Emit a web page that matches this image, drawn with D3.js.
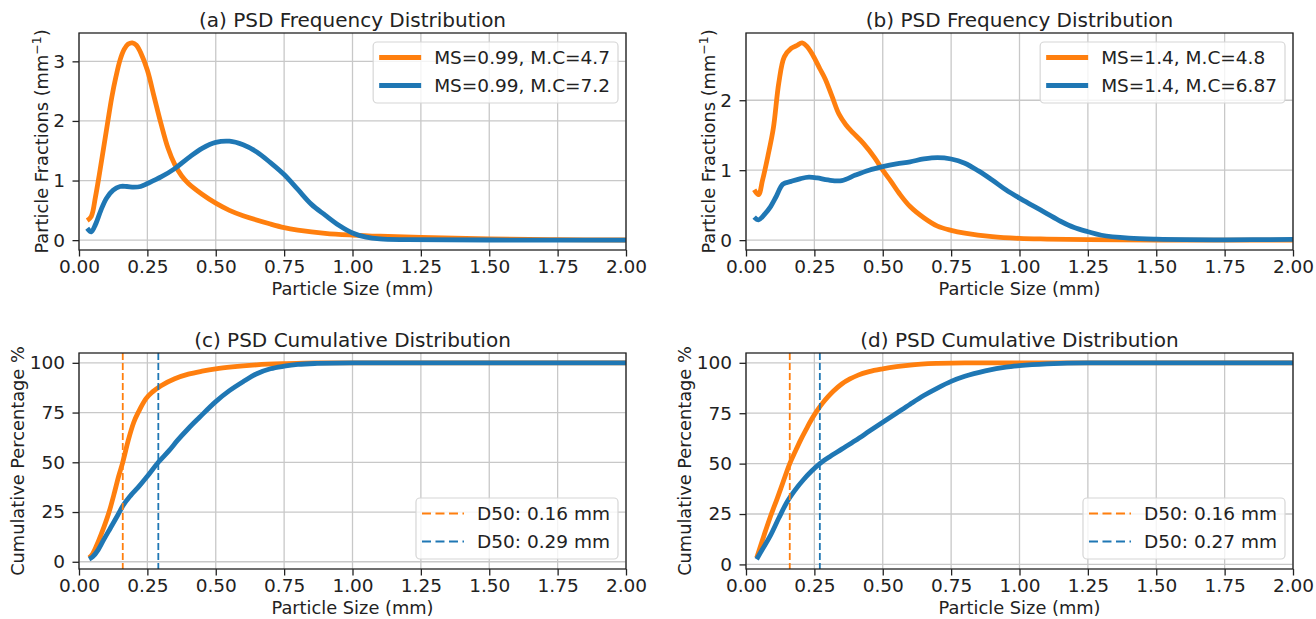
<!DOCTYPE html>
<html>
<head>
<meta charset="utf-8">
<script src="https://cdn.jsdelivr.net/npm/d3@7"></script>
<style>
  body { margin: 0; background: #fff; }
  svg { display: block; font-family: "DejaVu Sans", sans-serif; }
</style>
</head>
<body>
<svg id="chart"></svg>
<script>
// size ticks shared by every panel
const xTicks = [0, 0.25, 0.5, 0.75, 1.0, 1.25, 1.5, 1.75, 2.0];

// (a) frequency, MS=0.99
const aOrange = [[0.03,0.33],[0.045,0.40],[0.06,0.72],[0.075,1.12],[0.09,1.55],[0.105,1.98],[0.12,2.40],[0.135,2.74],[0.15,3.02],[0.165,3.2],[0.18,3.29],[0.195,3.31],[0.21,3.27],[0.225,3.15],[0.25,2.85],[0.275,2.4],[0.3,1.95],[0.325,1.55],[0.35,1.27],[0.375,1.08],[0.4,0.95],[0.45,0.77],[0.5,0.62],[0.55,0.5],[0.6,0.41],[0.7,0.27],[0.75,0.21],[0.8,0.17],[0.9,0.115],[1.0,0.085],[1.1,0.065],[1.25,0.045],[1.5,0.02],[1.75,0.008],[2.0,0.002]];
const aBlue = [[0.03,0.2],[0.045,0.14],[0.06,0.26],[0.08,0.5],[0.1,0.7],[0.125,0.84],[0.15,0.9],[0.175,0.9],[0.2,0.89],[0.225,0.9],[0.25,0.95],[0.3,1.06],[0.35,1.2],[0.4,1.38],[0.45,1.54],[0.5,1.64],[0.55,1.66],[0.6,1.6],[0.65,1.48],[0.7,1.3],[0.75,1.1],[0.8,0.85],[0.85,0.6],[0.9,0.42],[0.95,0.25],[1.0,0.12],[1.05,0.05],[1.1,0.02],[1.2,0.008],[1.5,0.002],[2.0,0]];

// (b) frequency, MS=1.4
const bOrange = [[0.03,0.72],[0.046,0.65],[0.06,0.85],[0.08,1.2],[0.1,1.6],[0.12,2.25],[0.14,2.62],[0.165,2.74],[0.185,2.78],[0.205,2.82],[0.225,2.76],[0.245,2.64],[0.27,2.45],[0.29,2.3],[0.315,2.05],[0.34,1.8],[0.365,1.65],[0.39,1.54],[0.43,1.38],[0.47,1.18],[0.5,1.0],[0.53,0.84],[0.56,0.67],[0.6,0.48],[0.65,0.32],[0.7,0.2],[0.75,0.14],[0.8,0.1],[0.9,0.05],[1.0,0.025],[1.1,0.015],[1.25,0.006],[1.5,0.001],[2.0,0]];
const bBlue = [[0.03,0.33],[0.046,0.29],[0.07,0.38],[0.09,0.48],[0.11,0.62],[0.135,0.8],[0.165,0.84],[0.2,0.88],[0.23,0.9],[0.26,0.89],[0.3,0.86],[0.35,0.85],[0.4,0.93],[0.45,1.0],[0.5,1.05],[0.55,1.09],[0.6,1.12],[0.65,1.16],[0.7,1.18],[0.75,1.16],[0.8,1.1],[0.85,0.99],[0.9,0.86],[0.95,0.72],[1.0,0.6],[1.05,0.49],[1.1,0.38],[1.15,0.27],[1.2,0.18],[1.25,0.12],[1.3,0.07],[1.4,0.03],[1.5,0.015],[1.75,0.005],[2.0,0.01]];

// (c) cumulative
const cOrange = [[0.037,2],[0.05,4],[0.07,10],[0.09,17],[0.11,25],[0.13,35],[0.145,43],[0.16,50],[0.18,61],[0.2,70],[0.22,76],[0.245,82],[0.27,85.5],[0.3,88.5],[0.35,92],[0.4,94.3],[0.45,95.8],[0.5,97],[0.56,98],[0.65,99],[0.75,99.6],[0.87,100],[1.0,100],[2.0,100]];
const cBlue = [[0.037,1.3],[0.05,2.5],[0.07,6],[0.09,11],[0.115,17],[0.14,23],[0.16,28],[0.19,33.5],[0.22,38],[0.25,43],[0.29,50],[0.33,56],[0.36,61],[0.4,67],[0.44,72.5],[0.5,80.5],[0.55,86],[0.6,90.5],[0.65,94.5],[0.7,97],[0.75,98.3],[0.8,99.2],[0.87,99.7],[1.0,100],[2.0,100]];
const cD50 = [0.16, 0.29];

// (d) cumulative
const dOrange = [[0.039,3.3],[0.06,12],[0.09,24],[0.115,33],[0.136,41],[0.16,50],[0.18,56],[0.2,61.8],[0.22,67],[0.24,72],[0.26,76.3],[0.28,80],[0.3,83.2],[0.32,86],[0.35,89.5],[0.38,92],[0.41,93.9],[0.45,95.6],[0.5,97],[0.55,98.1],[0.6,98.9],[0.7,99.7],[0.8,100],[2.0,100]];
const dBlue = [[0.039,2.6],[0.06,7.5],[0.09,14.5],[0.12,23],[0.15,31],[0.18,37],[0.21,42],[0.24,46.3],[0.27,50],[0.3,52.9],[0.35,57.2],[0.4,61.5],[0.45,66],[0.5,70.5],[0.55,75],[0.6,79.5],[0.65,83.8],[0.7,87.5],[0.75,90.8],[0.8,93.3],[0.875,96],[0.95,97.9],[1.0,98.6],[1.1,99.5],[1.25,100],[2.0,100]];
const dD50 = [0.16, 0.27];

const orange = "#ff7f0e", blue = "#1f77b4";

const W = 1316, H = 619;
const svg = d3.select("#chart").attr("width", W).attr("height", H);
svg.append("rect").attr("width", W).attr("height", H).attr("fill", "#fff");

const panels = [
  { key: "a", box: [79, 626, 33, 250], title: "(a) PSD Frequency Distribution",
    series: [aOrange, aBlue], yTicks: [0, 1, 2, 3], freq: true,
    labels: ["MS=0.99, M.C=4.7", "MS=0.99, M.C=7.2"] },
  { key: "b", box: [746, 1293, 33, 250], title: "(b) PSD Frequency Distribution",
    series: [bOrange, bBlue], yTicks: [0, 1, 2], freq: true,
    labels: ["MS=1.4, M.C=4.8", "MS=1.4, M.C=6.87"] },
  { key: "c", box: [79, 626, 353, 569], title: "(c) PSD Cumulative Distribution",
    series: [cOrange, cBlue], yTicks: [0, 25, 50, 75, 100], freq: false, d50: cD50 },
  { key: "d", box: [746, 1293, 353, 569], title: "(d) PSD Cumulative Distribution",
    series: [dOrange, dBlue], yTicks: [0, 25, 50, 75, 100], freq: false, d50: dD50 }
];

const tickFont = 18.5, labelFont = 17.8, titleFont = 20, legFont = 18.5;

panels.forEach(p => drawPanel(p));

function drawPanel(p) {
  const [L, R, T, B] = p.box;
  const all = p.series.flat().map(d => d[1]);
  const lo = d3.min(all), hi = d3.max(all), m = (hi - lo) * 0.05;

  const x = d3.scaleLinear().domain([0, 2]).range([L, R]);
  const y = d3.scaleLinear().domain([lo - m, hi + m]).range([B, T]);

  const g = svg.append("g");

  // grid
  g.selectAll(".gx").data(xTicks).join("line")
    .attr("x1", d => x(d)).attr("x2", d => x(d)).attr("y1", T).attr("y2", B)
    .attr("stroke", "#c8c8c8").attr("stroke-width", 1.3);
  g.selectAll(".gy").data(p.yTicks).join("line")
    .attr("x1", L).attr("x2", R).attr("y1", d => y(d)).attr("y2", d => y(d))
    .attr("stroke", "#c8c8c8").attr("stroke-width", 1.3);

  g.append("clipPath").attr("id", "clip-" + p.key)
    .append("rect").attr("x", L).attr("y", T).attr("width", R - L).attr("height", B - T);

  const curve = p.freq ? d3.curveCatmullRom.alpha(0.5) : d3.curveMonotoneX;
  const line = d3.line().x(d => x(d[0])).y(d => y(d[1])).curve(curve);
  const colors = [orange, blue];
  const plot = g.append("g").attr("clip-path", `url(#clip-${p.key})`);
  p.series.forEach((s, i) => {
    plot.append("path").datum(s).attr("d", line)
      .attr("fill", "none").attr("stroke", colors[i]).attr("stroke-width", 4.8)
      .attr("stroke-linejoin", "round").attr("stroke-linecap", "butt");
  });
  if (p.d50) {
    p.d50.forEach((v, i) => {
      plot.append("line").attr("x1", x(v)).attr("x2", x(v)).attr("y1", T).attr("y2", B)
        .attr("stroke", colors[i]).attr("stroke-width", 1.8).attr("stroke-dasharray", "7,3");
    });
  }

  // axes
  const xa = g.append("g").attr("transform", `translate(0,${B})`)
    .call(d3.axisBottom(x).tickValues(xTicks).tickFormat(d3.format(".2f"))
      .tickSize(6.5).tickPadding(3.4).tickSizeOuter(0));
  const ya = g.append("g").attr("transform", `translate(${L},0)`)
    .call(d3.axisLeft(y).tickValues(p.yTicks).tickFormat(d3.format("d"))
      .tickSize(6.5).tickPadding(7.5).tickSizeOuter(0));
  [xa, ya].forEach(a => {
    a.select(".domain").remove();
    a.selectAll("line").attr("stroke", "#222").attr("stroke-width", 1.3);
    a.selectAll("text").attr("fill", "#222").style("font-size", tickFont + "px")
      .style("font-family", "DejaVu Sans");
  });

  // frame
  g.append("rect").attr("x", L).attr("y", T).attr("width", R - L).attr("height", B - T)
    .attr("fill", "none").attr("stroke", "#222").attr("stroke-width", 1.3);

  // title
  g.append("text").attr("x", (L + R) / 2).attr("y", T - 6).attr("text-anchor", "middle")
    .style("font-size", titleFont + "px").attr("fill", "#222").text(p.title);

  // x label
  g.append("text").attr("x", (L + R) / 2).attr("y", B + 45).attr("text-anchor", "middle")
    .style("font-size", labelFont + "px").attr("fill", "#222").text("Particle Size (mm)");

  // y label
  let tw = 0;
  ya.selectAll("text").each(function () { tw = Math.max(tw, this.getBBox().width); });
  const yl = g.append("text")
    .attr("transform", `translate(${L - tw - 25.5},${(T + B) / 2}) rotate(-90)`)
    .attr("text-anchor", "middle").attr("dy", "0.35em")
    .style("font-size", labelFont + "px").attr("fill", "#222");
  if (p.freq) {
    yl.append("tspan").text("Particle Fractions (mm");
    yl.append("tspan").attr("dy", -7).style("font-size", "12.5px").text("\u22121");
    yl.append("tspan").attr("dy", 7).text(")");
  } else {
    yl.text("Cumulative Percentage %");
  }

  // legend
  const leg = g.append("g");
  const labels = p.freq ? p.labels : p.d50.map(v => `D50: ${v.toFixed(2)} mm`);
  const boxH = 61;
  const texts = labels.map((t, i) => leg.append("text").style("font-size", legFont + "px")
    .attr("fill", "#222").text(t));
  const maxW = d3.max(texts, t => t.node().getComputedTextLength());
  const boxW = 61 + maxW + 8;
  const bx = R - 8 - boxW;
  const by = p.freq ? T + 9 : B - 10 - boxH;
  leg.insert("rect", "text").attr("x", bx).attr("y", by).attr("width", boxW).attr("height", boxH)
    .attr("rx", 4).attr("fill", "#fff").attr("fill-opacity", 0.8)
    .attr("stroke", "#d6d6d6").attr("stroke-width", 1.2);
  texts.forEach((t, i) => {
    const cy = by + 15.5 + i * 28;
    t.attr("x", bx + 61).attr("y", cy).attr("dy", "0.36em");
    const h = leg.append("line").attr("x1", bx + 6).attr("x2", bx + 48)
      .attr("y1", cy).attr("y2", cy).attr("stroke", colors[i]);
    if (p.freq) h.attr("stroke-width", 4.8);
    else h.attr("stroke-width", 2.2).attr("stroke-dasharray", "9,4.5");
  });
}
</script>
</body>
</html>
